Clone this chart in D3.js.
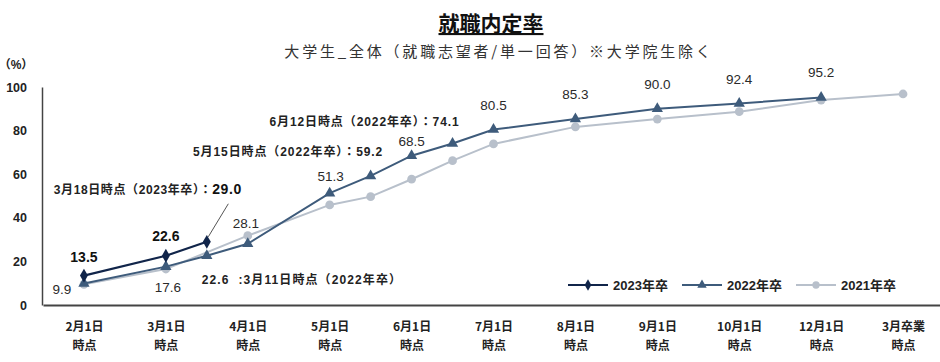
<!DOCTYPE html>
<html><head><meta charset="utf-8">
<script src="https://cdn.jsdelivr.net/npm/d3@7"></script>
<style>
html,body{margin:0;padding:0;background:#fff;}
svg{display:block;font-family:"Liberation Sans","Noto Sans CJK JP",sans-serif;}
</style></head>
<body><svg id="c" width="940" height="362"></svg>
<script>
// ---- data ----
const categories = ["2月1日","3月1日","4月1日","5月1日","6月1日","7月1日","8月1日","9月1日","10月1日","12月1日","3月卒業"];
const categoryLine2 = "時点";
const yTicks = [0,20,40,60,80,100];
const seriesNames = ["2023年卒","2022年卒","2021年卒"];
// x positions: category index (intermediate survey dates sit half-way)
const x2023 = [0,1,1.5];
const v2023 = [13.5,22.6,29.0];
const x2022 = [0,1,1.5,2,3,3.5,4,4.5,5,6,7,8,9];
const v2022 = [9.9,17.6,22.6,28.1,51.3,59.2,68.5,74.1,80.5,85.3,90.0,92.4,95.2];
const x2021 = [0,1,2,3,3.5,4,4.5,5,6,7,8,9,10];
const v2021 = [9.5,16.5,31.8,45.9,49.7,57.7,66.2,73.9,81.7,85.3,88.7,94.0,96.8];
const title = "就職内定率";
const subtitle = "大学生_全体（就職志望者/単一回答）※大学院生除く";
const unitLabel = "（%）";

// ---- layout ----
const svg = d3.select("#c");
const x = d3.scaleLinear().domain([-0.5,10.5]).range([43,944]);
const y = d3.scaleLinear().domain([0,100]).range([305,87]);
const colors = {"2023年卒":"#11254a","2022年卒":"#3e5b7b","2021年卒":"#b8c0cb"};

// title
svg.append("text").attr("x",491).attr("y",31).attr("text-anchor","middle")
  .attr("font-size",21).attr("font-weight","bold").attr("fill","#111")
  .attr("font-family","'Noto Sans CJK JP',sans-serif")
  .attr("text-decoration","underline").text(title);
svg.append("text").attr("x",499).attr("y",57).attr("text-anchor","middle")
  .attr("font-size",15).attr("fill","#333").attr("letter-spacing",2.8)
  .attr("font-family","'Noto Sans CJK JP',sans-serif").text(subtitle);
svg.append("text").attr("x",16).attr("y",69).attr("text-anchor","middle")
  .attr("font-size",12).attr("font-weight","bold").attr("fill","#222").text(unitLabel);

// y axis
const yAxis = svg.append("g").attr("transform",`translate(${x(-0.5)-1},0)`)
  .call(d3.axisLeft(y).tickValues(yTicks).tickSize(0).tickPadding(15));
yAxis.select(".domain").attr("stroke","#444").attr("stroke-width",1.5);
yAxis.selectAll("text").attr("font-size",12.5).attr("font-weight","bold").attr("fill","#222");

// x axis
const xAxis = svg.append("g").attr("transform",`translate(0,${y(0)})`)
  .call(d3.axisBottom(x).tickValues(d3.range(categories.length)).tickSize(0).tickFormat(""));
xAxis.select(".domain").attr("stroke","#444").attr("stroke-width",2);
xAxis.selectAll(".tick text").each(function(d){
  const t = d3.select(this).text(null).attr("font-size",12).attr("font-weight","bold")
    .attr("fill","#222").attr("y",0).attr("dy",null)
    .attr("font-family","'Noto Sans CJK JP',sans-serif");
  t.append("tspan").attr("x",0).attr("y",25.5).text(categories[d]);
  t.append("tspan").attr("x",0).attr("y",44.5).text(categoryLine2);
});

// series
const series = [
  {name:"2021年卒", xs:x2021, vs:v2021, sym:d3.symbolCircle, size:60, w:2},
  {name:"2022年卒", xs:x2022, vs:v2022, sym:d3.symbolTriangle, size:55, w:2},
  {name:"2023年卒", xs:x2023, vs:v2023, sym:d3.symbolDiamond, size:55, w:2.2}
];
const line = d3.line().x(d=>x(d[0])).y(d=>y(d[1]));
series.forEach(s=>{
  const pts = s.xs.map((xi,i)=>[xi,s.vs[i]]);
  svg.append("path").datum(pts).attr("d",line).attr("fill","none")
    .attr("stroke",colors[s.name]).attr("stroke-width",s.w);
  svg.append("g").selectAll("path").data(pts).join("path")
    .attr("transform",d=>`translate(${x(d[0])},${y(d[1])})`)
    .attr("d",d3.symbol().type(s.sym).size(s.size))
    .attr("fill",colors[s.name]);
});

// data labels (value from series arrays, offsets are layout)
function pt(xs,vs,i){return [x(xs[i]),y(vs[i])];}
const lab = svg.append("g").attr("fill","#2a2a2a").attr("font-size",13.5);
function addLabel(p,dx,dy,txt,anchor){
  return lab.append("text").attr("x",p[0]+dx).attr("y",p[1]+dy)
    .attr("text-anchor",anchor||"middle").attr("xml:space","preserve").text(txt);
}
function annot(t,ls){ return t.attr("font-size",12).attr("font-weight","bold").attr("fill","#222").attr("letter-spacing",ls); }
const f = v=>v.toFixed(1);
// 2023
addLabel(pt(x2023,v2023,0),0,-14,f(v2023[0])).attr("font-weight","bold").attr("font-size",14).attr("fill","#111");
addLabel(pt(x2023,v2023,1),0,-14.5,f(v2023[1])).attr("font-weight","bold").attr("font-size",14).attr("fill","#111");
{
  const p = pt(x2023,v2023,2);
  const t = lab.append("text").attr("x",p[0]+35).attr("y",p[1]-48).attr("text-anchor","end")
    .attr("font-weight","bold").attr("letter-spacing",0.6);
  t.append("tspan").attr("font-size",12).attr("fill","#222").text("3月18日時点（2023年卒）：");
  t.append("tspan").attr("font-size",14).attr("fill","#111").text(f(v2023[2]));
  svg.append("line").attr("x1",p[0]+1.5).attr("y1",p[1]-5).attr("x2",p[0]+21.5).attr("y2",p[1]-38)
    .attr("stroke","#555").attr("stroke-width",1);
}
// 2022
addLabel(pt(x2022,v2022,0),-22,11,f(v2022[0]));
addLabel(pt(x2022,v2022,1),2,25.5,f(v2022[1]));
annot(addLabel(pt(x2022,v2022,2),-5,28,f(v2022[2])+"  :3月11日時点（2022年卒）","start"),1.1);
addLabel(pt(x2022,v2022,3),-2,-16,f(v2022[3]));
addLabel(pt(x2022,v2022,4),1,-12,f(v2022[4]));
annot(addLabel(pt(x2022,v2022,5),12.5,-19.5,"5月15日時点（2022年卒）："+f(v2022[5]),"end"),0.9);
addLabel(pt(x2022,v2022,6),0,-10,f(v2022[6]));
annot(addLabel(pt(x2022,v2022,7),7,-17.5,"6月12日時点（2022年卒）："+f(v2022[7]),"end"),0.9);
for(let i=8;i<v2022.length;i++) addLabel(pt(x2022,v2022,i),0,-20,f(v2022[i]));

// legend
const legendX = [568,682,796];
const leg = svg.append("g");
series.slice().reverse().forEach((s,i)=>{
  const g = leg.append("g").attr("transform",`translate(${legendX[i]},285)`);
  g.append("line").attr("x1",0).attr("x2",40).attr("stroke",colors[s.name]).attr("stroke-width",2);
  g.append("path").attr("transform","translate(20,0)").attr("d",d3.symbol().type(s.sym).size(s.size*0.7)).attr("fill",colors[s.name]);
  g.append("text").attr("x",45).attr("y",4.5).attr("font-size",13).attr("font-weight","bold").attr("fill","#222").text(s.name);
});
</script></body></html>
